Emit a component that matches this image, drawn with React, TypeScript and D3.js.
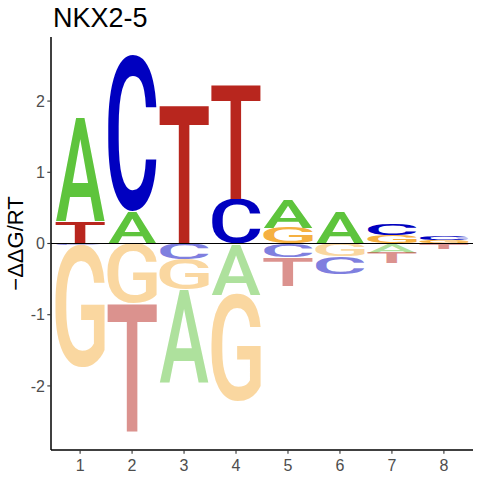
import * as d3 from "d3";

// energy logo for NKX2-5, -ddG/RT per base and position
const positions = [1, 2, 3, 4, 5, 6, 7, 8];
const bases = ["A", "C", "G", "T"];
const valuesA = [1.46, 0.455, -1.31, -0.72, 0.39, 0.44, -0.13, -0.01];
const valuesC = [-0.02, 2.18, -0.22, 0.62, -0.19, -0.25, 0.15, 0.05];
const valuesG = [-1.71, -0.83, -0.43, -1.5, 0.22, -0.18, 0.12, 0.045];
const valuesT = [0.31, -1.8, 1.96, 1.61, -0.4, 0, -0.15, -0.07];
const yTicks = [-2, -1, 0, 1, 2];

const baseColors: Record<string, string> = {
  A: "#5ec43c",
  C: "#0000c0",
  G: "#f5b041",
  T: "#b8261e",
};

const width = 480;
const height = 480;
const margin = { top: 37, right: 7, bottom: 30, left: 51 };

const FONT_FAMILY = "'Liberation Sans', Arial, sans-serif";
const LOGO_FONT = "Roboto, 'Liberation Sans', sans-serif";
const LOGO_WEIGHT = 500;

// tight glyph bounds, so each letter can be stretched to fill its box
const canvas = document.createElement("canvas");
const ctx = canvas.getContext("2d")!;
function glyphBox(ch: string) {
  ctx.font = `${LOGO_WEIGHT} 100px ${LOGO_FONT}`;
  const m = ctx.measureText(ch);
  return {
    l: m.actualBoundingBoxLeft,
    r: m.actualBoundingBoxRight,
    a: m.actualBoundingBoxAscent,
    d: m.actualBoundingBoxDescent,
  };
}

const valuesByBase: Record<string, number[]> = {
  A: valuesA,
  C: valuesC,
  G: valuesG,
  T: valuesT,
};

export default function App() {
  const x = d3.scaleLinear().domain([0.44, 8.56]).range([margin.left, width - margin.right]);
  const y = d3.scaleLinear().domain([-2.9, 2.9]).range([height - margin.bottom, margin.top]);

  /* ---------------- STACKS ---------------- */
  const letters: { base: string; pos: number; lo: number; hi: number; neg: boolean }[] = [];
  positions.forEach((p, i) => {
    const entries = bases.map(b => ({ b, v: valuesByBase[b][i] }));
    let acc = 0;
    entries
      .filter(e => e.v > 0)
      .sort((a, b) => a.v - b.v)
      .forEach(e => {
        letters.push({ base: e.b, pos: p, lo: acc, hi: acc + e.v, neg: false });
        acc += e.v;
      });
    acc = 0;
    entries
      .filter(e => e.v < 0)
      .sort((a, b) => b.v - a.v)
      .forEach(e => {
        letters.push({ base: e.b, pos: p, lo: acc + e.v, hi: acc, neg: true });
        acc += e.v;
      });
  });

  const half = 0.475;

  return (
    <svg
      width={width}
      height={height}
      style={{ position: "absolute", left: 0, top: 0, background: "white" }}
      fontFamily={FONT_FAMILY}
    >
      {/* letters */}
      {letters.map((d, k) => {
        const g = glyphBox(d.base);
        const x0 = x(d.pos - half);
        const x1 = x(d.pos + half);
        const yTop = y(d.hi);
        const yBot = y(d.lo);
        const sx = (x1 - x0) / (g.l + g.r);
        const sy = (yBot - yTop) / (g.a + g.d);
        return (
          <text
            key={k}
            transform={`translate(${x0},${yTop}) scale(${sx},${sy})`}
            x={g.l}
            y={g.a}
            fontSize={100}
            fontFamily={LOGO_FONT}
            fontWeight={LOGO_WEIGHT}
            fill={baseColors[d.base]}
            fillOpacity={d.neg ? 0.5 : 1}
          >
            {d.base}
          </text>
        );
      })}

      {/* zero line */}
      <line x1={margin.left} x2={width - margin.right} y1={y(0)} y2={y(0)} stroke="black" strokeWidth={1.1} />

      {/* axes */}
      <line x1={margin.left} x2={margin.left} y1={margin.top} y2={height - margin.bottom} stroke="black" strokeWidth={1.5} />
      <line
        x1={margin.left}
        x2={width - margin.right}
        y1={height - margin.bottom}
        y2={height - margin.bottom}
        stroke="black"
        strokeWidth={1.5}
      />

      {yTicks.map(t => (
        <g key={t}>
          <line x1={margin.left - 3.7} x2={margin.left} y1={y(t)} y2={y(t)} stroke="#333" strokeWidth={1.1} />
          <text x={margin.left - 6} y={y(t)} dy="0.36em" textAnchor="end" fontSize={16} fill="#4d4d4d">
            {t < 0 ? `-${-t}` : t}
          </text>
        </g>
      ))}

      {positions.map(p => (
        <g key={p}>
          <line
            x1={x(p)}
            x2={x(p)}
            y1={height - margin.bottom}
            y2={height - margin.bottom + 3.7}
            stroke="#333"
            strokeWidth={1.1}
          />
          <text x={x(p)} y={height - margin.bottom + 21} textAnchor="middle" fontSize={16} fill="#4d4d4d">
            {p}
          </text>
        </g>
      ))}

      {/* titles */}
      <text x={53} y={27} fontSize={27} fill="black">
        NKX2-5
      </text>
      <text
        transform={`translate(${23},${y(0)}) rotate(-90)`}
        textAnchor="middle"
        fontSize={22}
        fill="black"
      >
        −ΔΔG/RT
      </text>
    </svg>
  );
}
